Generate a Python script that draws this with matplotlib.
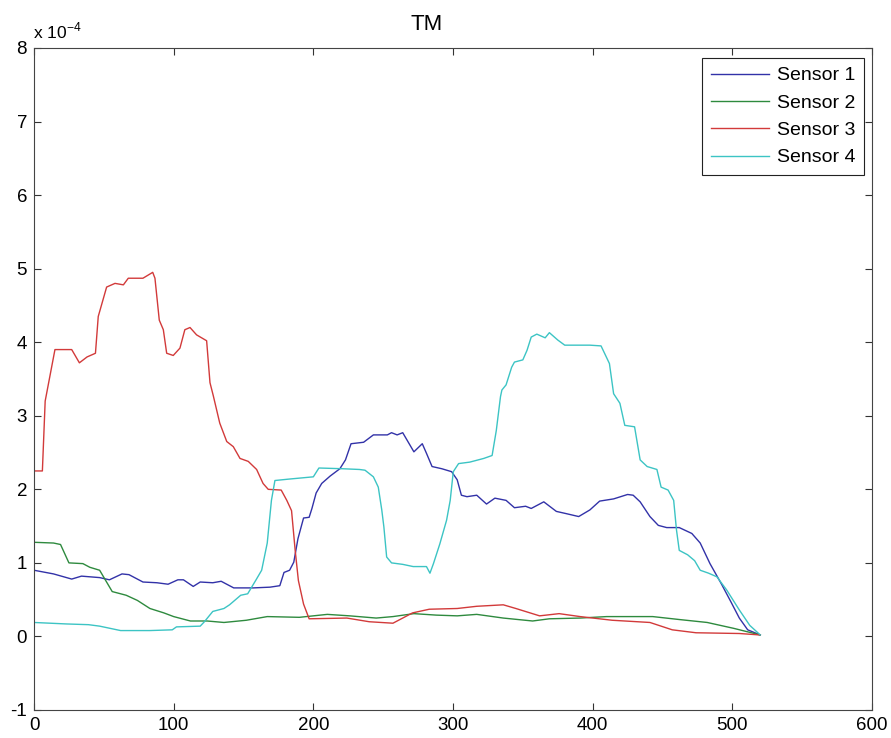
import matplotlib
matplotlib.use("Agg")
import matplotlib.pyplot as plt

plt.rcParams['font.family'] = ['Liberation Sans', 'DejaVu Sans']
plt.rcParams['axes.unicode_minus'] = False

# Values in units of 1e-4
s1_x = [0, 14, 27, 34, 47, 54, 63, 68, 78, 88, 96, 103, 107, 114, 119, 128, 134, 143, 157, 169,
        176, 179, 183, 186, 189, 193, 197, 199, 202, 206, 212, 219, 223, 227, 236, 243, 253, 256, 260, 264,
        272, 278, 281, 285, 292, 299, 303, 306, 310, 317, 324, 330, 338, 344, 352, 356, 365, 374, 381, 390,
        398, 405, 415, 425, 429, 434, 441, 447, 453, 462, 471, 477, 484, 492, 499, 505, 511, 520]
s1_y = [0.90, 0.85, 0.78, 0.82, 0.80, 0.77, 0.85, 0.84, 0.74, 0.73, 0.71, 0.77, 0.77, 0.68, 0.74, 0.73, 0.75, 0.66, 0.66, 0.67,
        0.69, 0.87, 0.90, 1.01, 1.33, 1.61, 1.62, 1.74, 1.95, 2.08, 2.18, 2.28, 2.40, 2.62, 2.64, 2.74, 2.74, 2.77, 2.74, 2.77,
        2.51, 2.62, 2.49, 2.31, 2.28, 2.24, 2.13, 1.92, 1.90, 1.92, 1.80, 1.88, 1.85, 1.75, 1.77, 1.74, 1.83, 1.70, 1.67, 1.63,
        1.72, 1.84, 1.87, 1.93, 1.92, 1.83, 1.63, 1.51, 1.48, 1.48, 1.40, 1.27, 0.99, 0.72, 0.47, 0.25, 0.09, 0.02]

s2_x = [0, 14, 19, 25, 35, 40, 47, 56, 66, 74, 83, 93, 100, 112, 124, 136, 152, 167, 190, 210,
        226, 245, 257, 272, 288, 303, 317, 336, 357, 369, 391, 410, 443, 462, 482, 501, 520]
s2_y = [1.28, 1.27, 1.25, 1.00, 0.99, 0.94, 0.90, 0.61, 0.56, 0.49, 0.38, 0.32, 0.27, 0.21, 0.21, 0.19, 0.22, 0.27, 0.26, 0.30,
        0.28, 0.25, 0.27, 0.31, 0.29, 0.28, 0.30, 0.25, 0.21, 0.24, 0.25, 0.27, 0.27, 0.23, 0.19, 0.11, 0.02]

s3_x = [0, 6, 8, 11, 15, 27, 32.5, 38, 44, 46, 52, 58, 64, 67.5, 78, 85, 86.6, 89.7, 92.6, 95,
        99.7, 104.5, 108, 111.7, 116.4, 123.6, 126, 128.4, 133, 138, 142.7, 147.5, 153.4, 159.4, 164, 167.7, 177, 181, 184.4, 187,
        189.3, 193, 197, 224, 240, 257, 271, 283, 303, 317, 336, 345, 362, 376, 391, 414, 441, 457, 474, 505, 520]
s3_y = [2.25, 2.25, 3.2, 3.5, 3.9, 3.9, 3.72, 3.8, 3.85, 4.35, 4.75, 4.8, 4.78, 4.87, 4.87, 4.95, 4.87, 4.3, 4.17, 3.85,
        3.82, 3.92, 4.17, 4.2, 4.1, 4.02, 3.45, 3.27, 2.9, 2.65, 2.58, 2.42, 2.38, 2.27, 2.08, 2.0, 1.99, 1.85, 1.71, 1.17,
        0.76, 0.44, 0.24, 0.25, 0.2, 0.18, 0.32, 0.37, 0.38, 0.41, 0.43, 0.38, 0.28, 0.31, 0.27, 0.22, 0.19, 0.09, 0.05, 0.04, 0.02]

s4_x = [0, 23, 39, 47, 62, 83, 99, 102, 119, 122, 128, 136, 140, 148, 153, 159, 163, 167, 170, 172.5,
        183, 200, 204, 221, 233, 237, 243, 246.5, 249, 250.5, 252.5, 256, 264, 271.5, 281, 283.5, 286, 290.6, 295.4, 298,
        300.2, 304, 312, 322, 328, 331, 334, 335, 338, 342, 344, 350, 353, 356, 360, 366, 369, 375, 380, 386,
        398, 406, 412, 415, 419.5, 423, 430, 434, 439, 446, 449, 454, 458, 460, 462, 468, 473, 477, 483, 489,
        496, 505, 512.5, 520]
s4_y = [0.19, 0.17, 0.16, 0.14, 0.08, 0.08, 0.09, 0.13, 0.14, 0.20, 0.34, 0.38, 0.43, 0.56, 0.58, 0.77, 0.9, 1.27, 1.85, 2.12,
        2.14, 2.17, 2.29, 2.28, 2.27, 2.26, 2.17, 2.03, 1.72, 1.49, 1.08, 1.0, 0.98, 0.95, 0.95, 0.86, 0.99, 1.26, 1.58, 1.85,
        2.24, 2.35, 2.37, 2.42, 2.46, 2.8, 3.26, 3.35, 3.42, 3.66, 3.73, 3.76, 3.89, 4.07, 4.11, 4.06, 4.13, 4.03, 3.96, 3.96,
        3.96, 3.95, 3.71, 3.3, 3.17, 2.87, 2.85, 2.4, 2.31, 2.27, 2.03, 1.99, 1.85, 1.45, 1.17, 1.11, 1.03, 0.9, 0.86, 0.81,
        0.63, 0.36, 0.15, 0.02]

labels = ["Sensor 1", "Sensor 2", "Sensor 3", "Sensor 4"]
colors = ["#3232a8", "#2e8a3e", "#d23a3a", "#3cc4c4"]
x_ticks = [0, 100, 200, 300, 400, 500, 600]
y_ticks = [-1, 0, 1, 2, 3, 4, 5, 6, 7, 8]
title = "TM"

W, H = 891, 738
fig = plt.figure(figsize=(W / 100, H / 100), dpi=100)
ax = fig.add_axes([34 / W, 1 - 710 / H, (872 - 34) / W, (710 - 48) / H])

for xs, ys, lab, c in zip([s1_x, s2_x, s3_x, s4_x], [s1_y, s2_y, s3_y, s4_y], labels, colors):
    ax.plot(xs, ys, color=c, lw=1.0, label=lab)

ax.set_xlim(0, 600)
ax.set_ylim(-1, 8)
ax.set_xticks(x_ticks)
ax.set_yticks(y_ticks)
ax.tick_params(direction='in', top=True, right=True, length=5, width=0.8,
               color='#333333', labelsize=13.5, pad=5)
for sp in ax.spines.values():
    sp.set_color('#444444')
    sp.set_linewidth(0.8)

ax.text(0.468, 1 + 13 / 662, title, transform=ax.transAxes, ha='center', va='bottom', fontsize=16)
ax.text(-0.001, 1 + 7 / 662, r"x 10$^{\mathregular{-4}}$", transform=ax.transAxes,
        ha='left', va='bottom', fontsize=12.5)

leg = fig.legend(loc='upper right', bbox_to_anchor=(864 / W, 1 - 58 / H), bbox_transform=fig.transFigure,
                 borderaxespad=0, fancybox=False, edgecolor='#222222', framealpha=1,
                 fontsize=14, handlelength=3.0, labelspacing=0.5, handletextpad=0.4, borderpad=0.45)
leg.get_frame().set_linewidth(0.8)

fig.savefig("out.png", dpi=100, facecolor='white')
